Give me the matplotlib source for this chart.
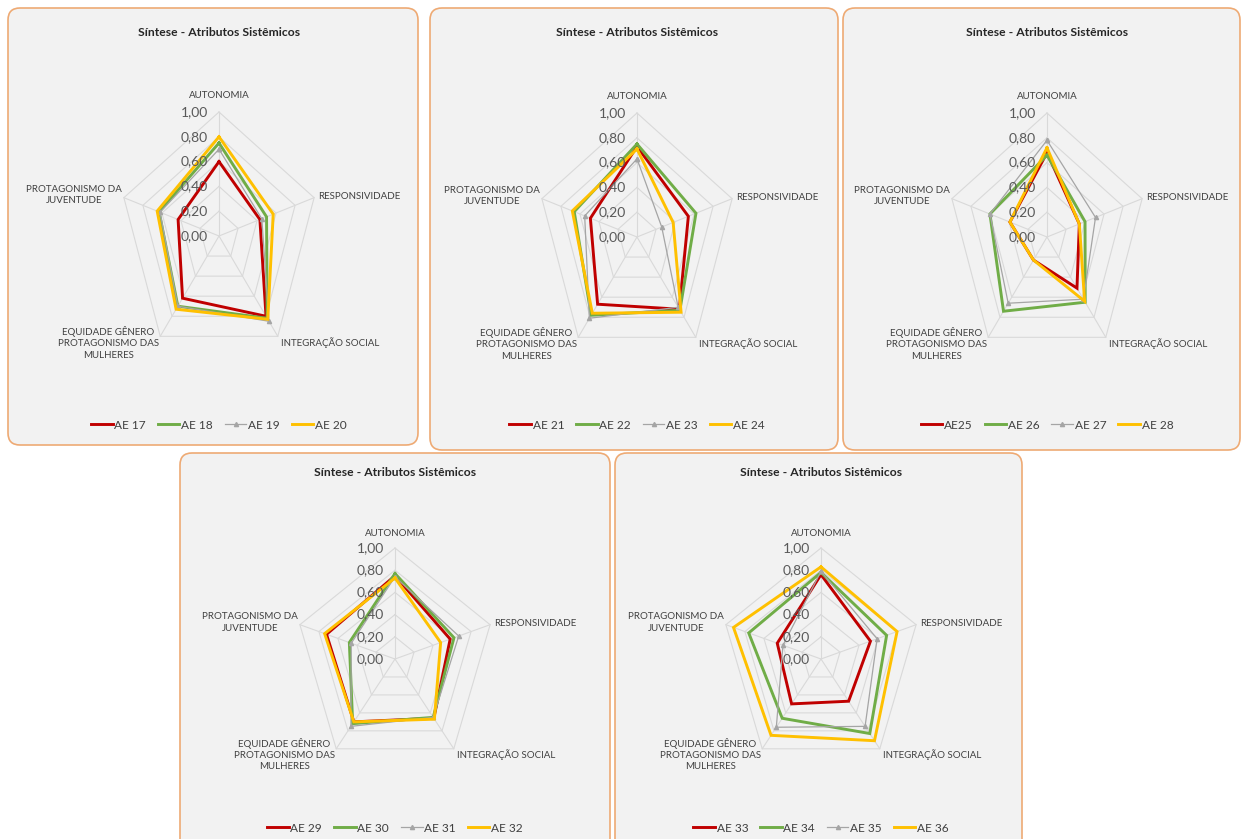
import numpy as np
import matplotlib
matplotlib.use("Agg")
import matplotlib.pyplot as plt
from matplotlib.patches import FancyBboxPatch

W, H = 1245, 839

categories = ["AUTONOMIA", "RESPONSIVIDADE", "INTEGRAÇÃO SOCIAL",
              "EQUIDADE GÊNERO\nPROTAGONISMO DAS\nMULHERES",
              "PROTAGONISMO DA\nJUVENTUDE"]
rticks = [0.0, 0.2, 0.4, 0.6, 0.8, 1.0]
rtick_labels = ["0,00", "0,20", "0,40", "0,60", "0,80", "1,00"]
title = "Síntese - Atributos Sistêmicos"

# panel 1
names_1 = ["AE 17", "AE 18", "AE 19", "AE 20"]
ae17 = [0.60, 0.43, 0.80, 0.62, 0.43]
ae18 = [0.75, 0.50, 0.82, 0.70, 0.63]
ae19 = [0.70, 0.45, 0.85, 0.70, 0.62]
ae20 = [0.80, 0.57, 0.83, 0.73, 0.65]

# panel 2
names_2 = ["AE 21", "AE 22", "AE 23", "AE 24"]
ae21 = [0.73, 0.54, 0.72, 0.67, 0.49]
ae22 = [0.75, 0.62, 0.73, 0.78, 0.66]
ae23 = [0.63, 0.26, 0.70, 0.81, 0.55]
ae24 = [0.71, 0.38, 0.75, 0.76, 0.68]

# panel 3
names_3 = ["AE25", "AE 26", "AE 27", "AE 28"]
ae25 = [0.68, 0.34, 0.51, 0.23, 0.39]
ae26 = [0.66, 0.40, 0.65, 0.74, 0.60]
ae27 = [0.78, 0.51, 0.62, 0.66, 0.60]
ae28 = [0.72, 0.34, 0.64, 0.23, 0.39]

# panel 4
names_4 = ["AE 29", "AE 30", "AE 31", "AE 32"]
ae29 = [0.75, 0.58, 0.66, 0.70, 0.72]
ae30 = [0.77, 0.62, 0.65, 0.72, 0.48]
ae31 = [0.74, 0.67, 0.65, 0.75, 0.46]
ae32 = [0.73, 0.48, 0.67, 0.70, 0.74]

# panel 5
names_5 = ["AE 33", "AE 34", "AE 35", "AE 36"]
ae33 = [0.76, 0.52, 0.47, 0.50, 0.46]
ae34 = [0.78, 0.69, 0.83, 0.66, 0.76]
ae35 = [0.79, 0.59, 0.75, 0.76, 0.40]
ae36 = [0.83, 0.80, 0.91, 0.85, 0.92]

colors = ["#c00000", "#70ad47", "#a5a5a5", "#ffc000"]
plt.rcParams['font.family'] = ["Lato", "DejaVu Sans"]

angles = np.deg2rad(90 - 72 * np.arange(5))

fig = plt.figure(figsize=(W / 100, H / 100), dpi=100)
fig.patch.set_facecolor("white")

# overlay in pixel units for the panel frames
bg = fig.add_axes([0, 0, 1, 1])
bg.set_xlim(0, W)
bg.set_ylim(H, 0)
bg.axis("off")


def radar(box, cx, cy, ry, names, series, title_y, legend_y):
    x0, y0, x1, y1 = box
    bg.add_patch(FancyBboxPatch((x0, y0), x1 - x0, y1 - y0,
                                boxstyle="round,pad=0,rounding_size=12",
                                fc="#f2f2f2", ec="#eeaa74", lw=1.2))
    rx = 100
    ax = fig.add_axes([(cx - rx) / W, (H - cy - ry) / H, 2 * rx / W, 2 * ry / H])
    ax.set_xlim(-1, 1)
    ax.set_ylim(-1, 1)
    ax.axis("off")

    ca, sa = np.cos(angles), np.sin(angles)
    for r in rticks[1:]:
        ax.plot(np.append(r * ca, r * ca[0]), np.append(r * sa, r * sa[0]),
                color="#d9d9d9", lw=0.8, zorder=1, clip_on=False)
    for a in angles:
        ax.plot([0, np.cos(a)], [0, np.sin(a)], color="#d9d9d9", lw=0.8,
                zorder=1, clip_on=False)

    handles = []
    for vals, name, c in zip(series, names, colors):
        v = np.array(vals + vals[:1])
        ang = np.append(angles, angles[0])
        if c == "#a5a5a5":
            h, = ax.plot(v * np.cos(ang), v * np.sin(ang), color=c, lw=0.9,
                         marker="^", ms=3, zorder=3, clip_on=False, label=name)
        else:
            h, = ax.plot(v * np.cos(ang), v * np.sin(ang), color=c, lw=2.1,
                         zorder=3, clip_on=False, label=name,
                         solid_joinstyle="miter")
        handles.append(h)

    for r, lab in zip(rticks, rtick_labels):
        ax.text(-0.11, r, lab, ha="right", va="center", fontsize=10,
                color="#595959", zorder=4)

    lc = "#404040"
    fs = 7.0
    ax.text(0, 1.13, categories[0], ha="center", va="center", fontsize=fs, color=lc)
    ax.text(0.99, 0.32, categories[1], ha="left", va="center", fontsize=fs, color=lc)
    ax.text(0.62, -0.86, categories[2], ha="left", va="center", fontsize=fs, color=lc)
    ax.text(-0.60, -0.86, categories[3], ha="right", va="center", fontsize=fs,
            color=lc, multialignment="center", linespacing=1.35)
    ax.text(-0.97, 0.33, categories[4], ha="right", va="center", fontsize=fs,
            color=lc, multialignment="center", linespacing=1.35)

    fig.text(cx / W, 1 - title_y / H, title, ha="center", va="center",
             fontsize=8.7, fontweight="bold", color="#262626")
    fig.legend(handles=handles, loc="center", ncol=4, frameon=False,
               bbox_to_anchor=(cx / W, 1 - legend_y / H), fontsize=8.6,
               handlelength=1.8, handletextpad=0.15, columnspacing=1.0,
               labelcolor="#404040")


radar((8, 8, 418, 445), 219, 236, 124, names_1, [ae17, ae18, ae19, ae20], 32, 425)
radar((430, 8, 838, 450), 637, 237, 124, names_2, [ae21, ae22, ae23, ae24], 32, 425)
radar((843, 8, 1240, 450), 1047, 237, 124, names_3, [ae25, ae26, ae27, ae28], 32, 425)
radar((180, 453, 610, 860), 395, 659, 111, names_4, [ae29, ae30, ae31, ae32], 473, 828)
radar((615, 453, 1022, 860), 821, 659, 111, names_5, [ae33, ae34, ae35, ae36], 473, 828)

fig.savefig("out.png", dpi=100)
